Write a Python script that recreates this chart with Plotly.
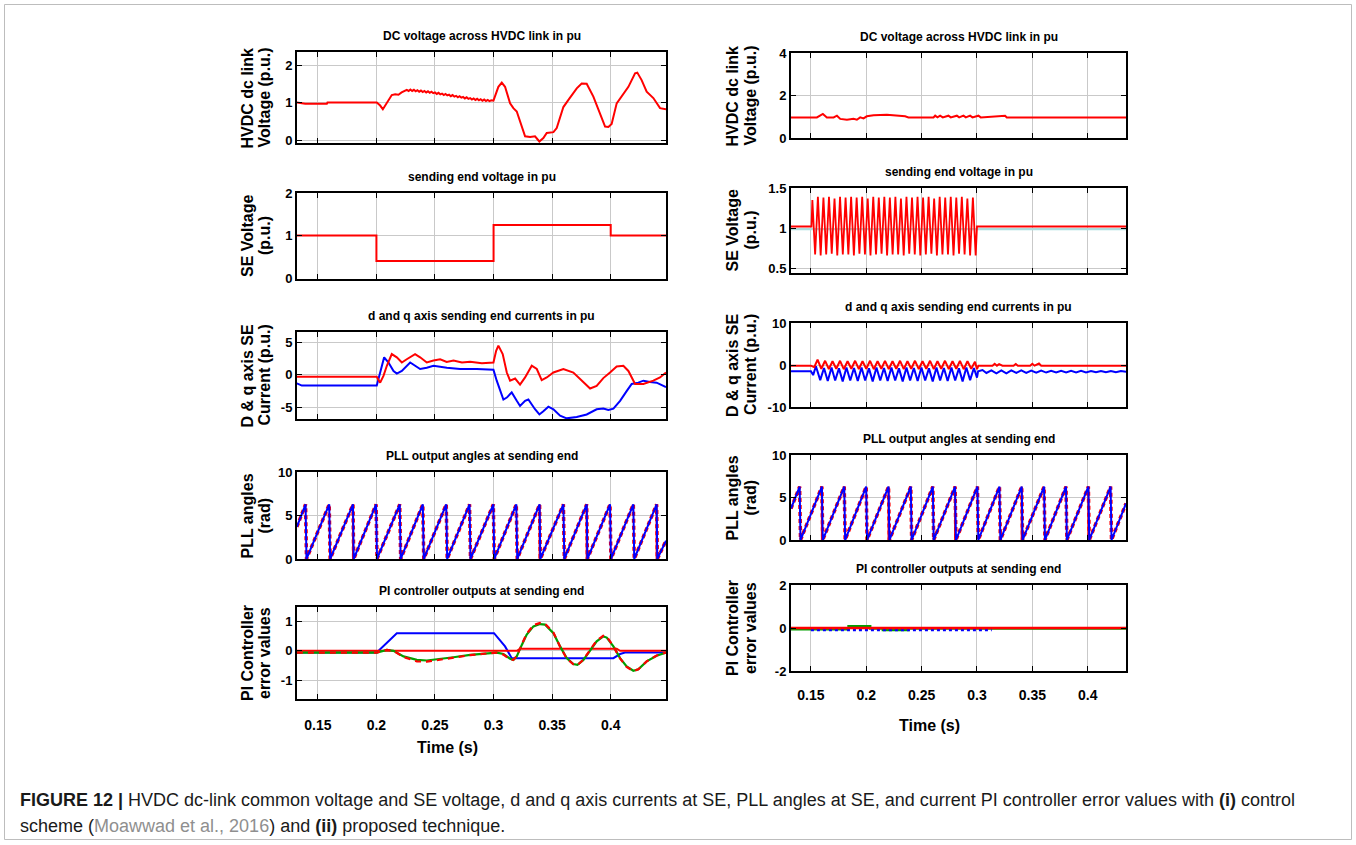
import plotly.graph_objects as go

W, H = 1356, 845

# ------------------------------------------------------------------ data
X_TICKS = [0.15, 0.20, 0.25, 0.30, 0.35, 0.40]
X_TICK_TEXT = ["0.15", "0.2", "0.25", "0.3", "0.35", "0.4"]

TITLES = ["DC voltage across HVDC link in pu", "sending end voltage in pu",
          "d and q axis sending end currents in pu", "PLL output angles at sending end",
          "PI controller outputs at sending end"]
YLABELS = [("HVDC dc link", "Voltage (p.u.)"), ("SE Voltage", "(p.u.)"),
           ("D & q axis SE", "Current (p.u.)"), ("PLL angles", "(rad)"),
           ("PI Controller", "error values")]

LEFT_YTICKS = [[0, 1, 2], [0, 1, 2], [-5, 0, 5], [0, 5, 10], [-1, 0, 1]]
RIGHT_YTICKS = [[0, 2, 4], [0.5, 1, 1.5], [-10, 0, 10], [0, 5, 10], [-2, 0, 2]]
LEFT_YRANGE = [[-0.08, 2.35], [-0.02, 2.0], [-6.8, 6.6], [0, 10], [-1.64, 1.49]]
RIGHT_YRANGE = [[0, 4], [0.44, 1.5], [-10, 10], [0, 10], [-2, 2]]
X_RANGE = [[0.1322, 0.4472], [0.1320, 0.4346]]

# ---- (i) left column
L_DC_T = [0.1321, 0.1392, 0.1577, 0.1582, 0.2003, 0.2032, 0.2055, 0.2089, 0.2131, 0.2160,
          0.2188, 0.2215, 0.2240,
          0.2259, 0.2275, 0.2290, 0.2305, 0.2320, 0.2335, 0.2350, 0.2365, 0.2380, 0.2395,
          0.2410, 0.2425, 0.2440, 0.2455, 0.2470, 0.2485, 0.2500, 0.2515, 0.2530, 0.2545,
          0.2560, 0.2575, 0.2590, 0.2605, 0.2620, 0.2635, 0.2650, 0.2665, 0.2680, 0.2695,
          0.2710, 0.2725, 0.2740, 0.2755, 0.2770, 0.2785, 0.2800, 0.2815, 0.2830, 0.2845,
          0.2860, 0.2875, 0.2890, 0.2905, 0.2920, 0.2935, 0.2950, 0.2965, 0.2980,
          0.2999, 0.3041, 0.3070, 0.3098, 0.3141, 0.3169, 0.3198, 0.3241, 0.3269, 0.3312,
          0.3354, 0.3391, 0.3425, 0.3454, 0.3511, 0.3539, 0.3596, 0.3639, 0.3710, 0.3752,
          0.3795, 0.3852, 0.3909, 0.3952, 0.3980, 0.4008, 0.4051, 0.4108, 0.4151, 0.4208,
          0.4227, 0.4264, 0.4307, 0.4364, 0.4421, 0.4472]
L_DC_V = [1.00, 0.97, 0.97, 1.00, 1.00, 0.92, 0.82, 0.98, 1.20, 1.22,
          1.21, 1.27, 1.30,
          1.34, 1.31, 1.35, 1.31, 1.34, 1.30, 1.33, 1.29, 1.32, 1.28,
          1.31, 1.27, 1.30, 1.26, 1.29, 1.25, 1.27, 1.23, 1.26, 1.22,
          1.24, 1.20, 1.23, 1.19, 1.21, 1.17, 1.20, 1.16, 1.18, 1.14,
          1.17, 1.13, 1.15, 1.11, 1.14, 1.10, 1.12, 1.08, 1.11, 1.07,
          1.10, 1.06, 1.09, 1.05, 1.08, 1.04, 1.07, 1.04, 1.06,
          1.05, 1.42, 1.53, 1.42, 0.98, 0.85, 0.76, 0.36, 0.10, 0.08,
          0.10, -0.04, 0.05, 0.19, 0.21, 0.32, 0.88, 1.07, 1.38, 1.51,
          1.50, 1.16, 0.72, 0.36, 0.35, 0.43, 0.98, 1.25, 1.42, 1.78,
          1.80, 1.60, 1.29, 1.12, 0.85, 0.82]

L_SE_T = [0.1321, 0.2000, 0.3000, 0.4000, 0.4472]
L_SE_V = [1.00, 0.40, 1.25, 1.00, 1.00]

L_ID_T = [0.1321, 0.2003, 0.2032, 0.2060, 0.2089, 0.2131, 0.2174, 0.2217, 0.2259, 0.2330,
          0.2373, 0.2430, 0.2487, 0.2544, 0.2600, 0.2658, 0.2730, 0.2800, 0.2900, 0.2999,
          0.3022, 0.3041, 0.3078,
          0.3113, 0.3141, 0.3184, 0.3226, 0.3269, 0.3326, 0.3369, 0.3411, 0.3454, 0.3511,
          0.3596, 0.3681, 0.3767, 0.3824, 0.3880, 0.3937, 0.3994, 0.4051, 0.4108, 0.4151,
          0.4208, 0.4279, 0.4364, 0.4421, 0.4472]
L_ID_V = [-0.3, -0.3, -1.2, -0.15, 1.4, 3.2, 2.7, 1.9, 2.4, 3.2,
          2.7, 1.9, 2.2, 2.4, 2.0, 2.2, 1.9, 2.0, 1.8, 1.9,
          3.7, 4.5, 3.2,
          0.36, -0.9, -0.57, -1.5, -0.4, 1.4, 0.9, -0.8, -0.4, 0.36,
          0.9, 0.36, -1.2, -2.1, -1.7, -0.5, 0.36, 1.3, 1.4, 0.6,
          -1.4, -1.4, -0.9, -0.4, 0.36]
L_IQ_T = [0.1321, 0.1363, 0.2003, 0.2032, 0.2066, 0.2103, 0.2146, 0.2174, 0.2217, 0.2288,
          0.2330, 0.2373, 0.2430, 0.2487, 0.2601, 0.2714, 0.2857, 0.2999, 0.3027, 0.3056,
          0.3084, 0.3113, 0.3155, 0.3198, 0.3226, 0.3269, 0.3297, 0.3354, 0.3391, 0.3425,
          0.3468, 0.3511, 0.3568, 0.3624, 0.3710, 0.3795, 0.3880, 0.3937, 0.3980, 0.4023,
          0.4080, 0.4136, 0.4179, 0.4236, 0.4279, 0.4335, 0.4392, 0.4472]
L_IQ_V = [-1.3, -1.65, -1.65, 0.36, 2.7, 1.9, 0.6, 0.2, 0.6, 1.9,
          1.4, 0.9, 1.1, 1.4, 1.1, 0.9, 0.9, 0.8, -0.9, -2.5,
          -3.8, -3.5, -2.7, -4.0, -4.8, -4.0, -3.8, -5.3, -6.1, -5.6,
          -4.9, -5.3, -6.3, -6.7, -6.5, -6.1, -5.3, -5.2, -5.4, -5.2,
          -4.0, -2.5, -1.4, -1.2, -0.9, -1.1, -1.2, -1.9]

PLL_MAX = 6.28
PLL_MIN = 0.0
L_PLL_START = (0.1321, 3.7)
L_PLL_END = (0.4472, 2.1)
L_PLL_PEAK_T = [0.1395, 0.1597, 0.1800, 0.1997, 0.2199, 0.2396, 0.2596, 0.2795,
                0.2998, 0.3194, 0.3393, 0.3596, 0.3795, 0.3994, 0.4193, 0.4392]
L_PLL_DROP_T = [0.1403, 0.1605, 0.1806, 0.2005, 0.2207, 0.2404, 0.2604, 0.2803,
                0.3006, 0.3202, 0.3399, 0.3604, 0.3801, 0.4002, 0.4201, 0.4398]
L_PLL_RED_DROP_T = [0.1800, 0.3393, 0.3795, 0.4392]

L_PI_BLUE_T = [0.1321, 0.2003, 0.2174, 0.3004, 0.3098, 0.3155, 0.4023, 0.4080, 0.4122, 0.4472]
L_PI_BLUE_V = [-0.06, -0.06, 0.60, 0.60, 0.15, -0.25, -0.25, -0.11, -0.06, -0.06]
L_PI_RED_T = [0.1321, 0.3198, 0.3226, 0.4051, 0.4080, 0.4472]
L_PI_RED_V = [0.0, 0.0, 0.07, 0.07, 0.0, 0.0]
L_PI_OSC_T = [0.1321, 0.2003, 0.2089, 0.2146, 0.2231, 0.2345, 0.2430, 0.2544, 0.2658, 0.2800,
              0.2942, 0.3027, 0.3084, 0.3141, 0.3169, 0.3198, 0.3241, 0.3283, 0.3340, 0.3397,
              0.3440, 0.3511, 0.3568, 0.3624, 0.3681, 0.3716, 0.3767, 0.3824, 0.3880, 0.3937,
              0.3966, 0.4023, 0.4080, 0.4136, 0.4193, 0.4236, 0.4307, 0.4392, 0.4472]
L_PI_GREEN_V = [-0.06, -0.06, 0.03, 0.00, -0.19, -0.31, -0.33, -0.28, -0.22, -0.14,
                -0.09, -0.06, -0.11, -0.27, -0.31, -0.19, 0.20, 0.55, 0.83, 0.91,
                0.89, 0.60, 0.15, -0.25, -0.45, -0.48, -0.31, 0.03, 0.32, 0.49,
                0.45, 0.15, -0.25, -0.53, -0.68, -0.63, -0.36, -0.17, -0.06]
L_PI_REDDASH_V = [-0.06, -0.06, 0.03, 0.00, -0.21, -0.36, -0.37, -0.30, -0.23, -0.15,
                  -0.09, -0.06, -0.13, -0.29, -0.31, -0.18, 0.22, 0.58, 0.87, 0.95,
                  0.92, 0.62, 0.14, -0.26, -0.46, -0.49, -0.30, 0.05, 0.35, 0.51,
                  0.48, 0.15, -0.26, -0.55, -0.69, -0.63, -0.36, -0.16, -0.06]

# ---- (ii) right column
R_DC_T = [0.1320, 0.1554, 0.1608, 0.1644, 0.1705, 0.1735, 0.1765, 0.1825, 0.1885, 0.1915,
          0.1945, 0.1975, 0.2005, 0.2066, 0.2186, 0.2306, 0.2351, 0.2381, 0.2607, 0.2622,
          0.2643, 0.2667, 0.2691, 0.2742, 0.2763, 0.2818, 0.2839, 0.2878, 0.2899, 0.2938,
          0.2959, 0.3013, 0.3034, 0.3254, 0.3269, 0.4346]
R_DC_V = [0.97, 0.97, 1.13, 0.97, 0.97, 1.05, 0.90, 0.86, 0.90, 0.86,
          0.97, 0.92, 1.02, 1.07, 1.10, 1.05, 1.02, 0.97, 0.97, 1.05,
          0.97, 1.05, 0.97, 1.05, 0.97, 1.05, 0.97, 1.05, 0.97, 1.05,
          0.97, 1.05, 0.97, 1.05, 0.97, 0.97]

R_SE_PRE = ([0.1320, 0.1505], [1.02, 1.02])
R_SE_POST = ([0.3000, 0.4346], [1.02, 1.02])
R_SE_PEAK_T = [0.1513, 0.1563, 0.1613, 0.1663, 0.1713, 0.1763, 0.1813, 0.1863, 0.1913, 0.1963,
               0.2013, 0.2063, 0.2113, 0.2163, 0.2213, 0.2263, 0.2313, 0.2363, 0.2413, 0.2463,
               0.2513, 0.2563, 0.2613, 0.2663, 0.2713, 0.2763, 0.2813, 0.2863, 0.2913, 0.2963]
R_SE_PEAK_V = [1.35, 1.39, 1.38, 1.39, 1.37, 1.39, 1.38, 1.39, 1.38, 1.39,
               1.37, 1.39, 1.38, 1.39, 1.38, 1.39, 1.37, 1.39, 1.38, 1.39,
               1.38, 1.39, 1.37, 1.39, 1.38, 1.39, 1.38, 1.39, 1.37, 1.38]
R_SE_TROUGH_T = [0.1538, 0.1588, 0.1638, 0.1688, 0.1738, 0.1788, 0.1838, 0.1888, 0.1938, 0.1988,
                 0.2038, 0.2088, 0.2138, 0.2188, 0.2238, 0.2288, 0.2338, 0.2388, 0.2438, 0.2488,
                 0.2538, 0.2588, 0.2638, 0.2688, 0.2738, 0.2788, 0.2838, 0.2888, 0.2938, 0.2988]
R_SE_TROUGH_V = [0.67, 0.66, 0.67, 0.68, 0.66, 0.67, 0.67, 0.66, 0.68, 0.67,
                 0.66, 0.67, 0.68, 0.66, 0.67, 0.67, 0.66, 0.68, 0.67, 0.66,
                 0.67, 0.68, 0.66, 0.67, 0.67, 0.66, 0.68, 0.67, 0.66, 0.66]
R_SE_REF_T = [0.1320, 0.4346]
R_SE_REF_V = [0.985, 0.985]

R_ID_PRE = ([0.1320, 0.1500, 0.1530], [-0.16, -0.16, -0.5])
R_ID_PEAK_T = [0.1560, 0.1628, 0.1695, 0.1763, 0.1831, 0.1899, 0.1966, 0.2034, 0.2102, 0.2169,
               0.2237, 0.2305, 0.2372, 0.2440, 0.2508, 0.2576, 0.2643, 0.2711, 0.2779, 0.2846,
               0.2914, 0.2982]
R_ID_PEAK_V = [1.3, 1.0, 0.9, 1.0, 0.9, 1.0, 0.9, 1.0, 0.9, 1.0,
               0.9, 1.0, 0.9, 1.0, 0.9, 1.0, 0.9, 1.0, 0.9, 1.0,
               0.9, 0.8]
R_ID_TROUGH_T = [0.1594, 0.1662, 0.1729, 0.1797, 0.1865, 0.1933, 0.2000, 0.2068, 0.2136, 0.2203,
                 0.2271, 0.2339, 0.2406, 0.2474, 0.2542, 0.2610, 0.2677, 0.2745, 0.2813, 0.2880,
                 0.2948, 0.3000]
R_ID_TROUGH_V = [-0.9, -0.95, -0.9, -1.0, -0.9, -0.95, -0.9, -1.0, -0.9, -0.95,
                 -0.9, -1.0, -0.9, -0.95, -0.9, -1.0, -0.9, -0.95, -0.9, -1.0,
                 -0.9, -1.0]
R_ID_POST_T = [0.3013, 0.3140, 0.3160, 0.3180, 0.3200, 0.3230, 0.3330, 0.3350, 0.3370,
               0.3480, 0.3500, 0.3520, 0.3560, 0.3580, 0.4346]
R_ID_POST_V = [-0.16, -0.16, 0.3, -0.16, 0.2, -0.16, -0.16, 0.25, -0.16,
               -0.16, 0.3, -0.16, 0.35, -0.16, -0.16]

R_IQ_PRE = ([0.1320, 0.1500, 0.1520, 0.1545], [-1.5, -1.5, -2.4, -0.3])
R_IQ_TROUGH_T = [0.1584, 0.1652, 0.1719, 0.1787, 0.1855, 0.1923, 0.1990, 0.2058, 0.2126, 0.2193,
                 0.2261, 0.2329, 0.2396, 0.2464, 0.2532, 0.2600, 0.2667, 0.2735, 0.2803, 0.2870,
                 0.2938]
R_IQ_TROUGH_V = [-3.6, -3.8, -3.7, -3.9, -3.7, -3.8, -3.7, -3.9, -3.7, -3.8,
                 -3.7, -3.9, -3.7, -3.8, -3.7, -3.9, -3.7, -3.8, -3.7, -3.9, -3.6]
R_IQ_PEAK_T = [0.1618, 0.1686, 0.1753, 0.1821, 0.1889, 0.1957, 0.2024, 0.2092, 0.2160, 0.2227,
               0.2295, 0.2363, 0.2430, 0.2498, 0.2566, 0.2634, 0.2701, 0.2769, 0.2837, 0.2904,
               0.2972]
R_IQ_PEAK_V = [-0.7, -0.6, -0.8, -0.6, -0.7, -0.6, -0.8, -0.6, -0.7, -0.6,
               -0.8, -0.6, -0.7, -0.6, -0.8, -0.6, -0.7, -0.6, -0.8, -0.6, -0.7]
R_IQ_POST_T = [0.3000, 0.3010, 0.3050, 0.3085, 0.3130, 0.3175, 0.3220, 0.3265, 0.3310, 0.3355,
               0.3400, 0.3445, 0.3490, 0.3535, 0.3580, 0.3625, 0.3670, 0.3715, 0.3760, 0.3805,
               0.3850, 0.3895, 0.3940, 0.3985, 0.4030, 0.4075, 0.4120, 0.4165, 0.4210, 0.4255,
               0.4300, 0.4346]
R_IQ_POST_V = [-3.0, -1.5, -1.2, -1.9, -1.3, -2.0, -1.3, -2.0, -1.3, -1.9,
               -1.3, -1.9, -1.35, -1.85, -1.35, -1.8, -1.4, -1.8, -1.4, -1.75,
               -1.4, -1.75, -1.4, -1.75, -1.45, -1.7, -1.45, -1.7, -1.45, -1.7,
               -1.45, -1.6]

R_PLL_START = (0.1320, 3.7)
R_PLL_END = (0.4346, 4.3)
R_PLL_PEAK_T = [0.1398, 0.1599, 0.1801, 0.1999, 0.2201, 0.2402, 0.2601, 0.2802,
                0.3004, 0.3203, 0.3404, 0.3606, 0.3804, 0.4006, 0.4207]
R_PLL_DROP_T = [0.1406, 0.1607, 0.1809, 0.2007, 0.2209, 0.2410, 0.2609, 0.2810,
                0.3012, 0.3211, 0.3412, 0.3614, 0.3812, 0.4014, 0.4215]
R_PLL_RED_DROP_T = [0.1599, 0.2201, 0.2802, 0.3404, 0.4006]

R_PI_RED_T = [0.1320, 0.4346]
R_PI_RED_V = [0.0, 0.0]
R_PI_BLUE_T = [0.1500, 0.3133]
R_PI_BLUE_V = [-0.09, -0.09]
R_PI_GREEN_T = [0.1320, 0.1840, 0.2035, 0.2150, 0.2380, 0.4346]
R_PI_GREEN_V = [-0.06, 0.08, -0.02, -0.09, -0.02, -0.02]

CAPTION_1 = ("<b>FIGURE 12 |</b> HVDC dc-link common voltage and SE voltage, d and q axis currents at SE, "
             "PLL angles at SE, and current PI controller error values with <b>(i)</b> control")
CAPTION_2 = ("scheme (<span style='color:#8f8f8f'>Moawwad et al., 2016</span>) and "
             "<b>(ii)</b> proposed technique.")

# ------------------------------------------------------------------ geometry (pixels)
COL_X = [(297, 666), (791, 1126)]
ROW_Y = [[(52, 143), (193, 279), (332, 419), (472, 559), (607, 699)],
         [(53, 138), (188, 273), (323, 407), (455, 540), (585, 671)]]
YLABEL_X = [(247, 264), (732, 750)]
TICK_STANDOFF = [12, 10]

FONT = "Liberation Sans, Arial, sans-serif"
RED, BLUE, GREEN = "#ff0000", "#0000ff", "#00a000"

fig = go.Figure()


def ax(n):
    return ("x" if n == 1 else f"x{n}"), ("y" if n == 1 else f"y{n}")


def add(n, t, v, color, width=2.0, dash="solid", shape="linear"):
    xa, ya = ax(n)
    fig.add_trace(go.Scatter(x=t, y=v, mode="lines", xaxis=xa, yaxis=ya, hoverinfo="skip",
                             line=dict(color=color, width=width, dash=dash, shape=shape)))


def interleave(a_t, a_v, b_t, b_v):
    t, v = [], []
    for i in range(max(len(a_t), len(b_t))):
        if i < len(a_t):
            t.append(a_t[i]); v.append(a_v[i])
        if i < len(b_t):
            t.append(b_t[i]); v.append(b_v[i])
    return t, v


def saw(start, peaks, drops, end):
    t, v = [start[0]], [start[1]]
    for p, d in zip(peaks, drops):
        t += [p, d]
        v += [PLL_MAX, PLL_MIN]
    t.append(end[0]); v.append(end[1])
    return t, v


def verticals(times):
    t, v = [], []
    for p in times:
        t += [p, p, None]
        v += [PLL_MAX, PLL_MIN, None]
    return t, v


# ---- left column traces
add(1, L_DC_T, L_DC_V, RED)
add(2, L_SE_T, L_SE_V, RED, shape="hv")
add(3, L_IQ_T, L_IQ_V, BLUE)
add(3, L_ID_T, L_ID_V, RED)
t, v = saw(L_PLL_START, L_PLL_PEAK_T, L_PLL_DROP_T, L_PLL_END)
add(4, t, v, RED, width=3.5, dash="4px,3px")
t, v = verticals(L_PLL_RED_DROP_T)
add(4, t, v, RED, width=2)
t, v = saw(L_PLL_START, L_PLL_PEAK_T, L_PLL_DROP_T, L_PLL_END)
add(4, t, v, BLUE, width=2)
add(5, L_PI_BLUE_T, L_PI_BLUE_V, BLUE)
add(5, L_PI_RED_T, L_PI_RED_V, RED)
add(5, L_PI_OSC_T, L_PI_GREEN_V, GREEN, width=2.2)
add(5, L_PI_OSC_T, L_PI_REDDASH_V, RED, width=2.2, dash="6px,5px")

# ---- right column traces
add(6, R_DC_T, R_DC_V, RED)
add(7, R_SE_REF_T, R_SE_REF_V, "#a9dede", width=2)
t, v = interleave(R_SE_PEAK_T, R_SE_PEAK_V, R_SE_TROUGH_T, R_SE_TROUGH_V)
add(7, R_SE_PRE[0] + t + R_SE_POST[0], R_SE_PRE[1] + v + R_SE_POST[1], RED, width=1.8)
t, v = interleave(R_IQ_TROUGH_T, R_IQ_TROUGH_V, R_IQ_PEAK_T, R_IQ_PEAK_V)
add(8, R_IQ_PRE[0] + t + R_IQ_POST_T, R_IQ_PRE[1] + v + R_IQ_POST_V, BLUE)
t, v = interleave(R_ID_PEAK_T, R_ID_PEAK_V, R_ID_TROUGH_T, R_ID_TROUGH_V)
add(8, R_ID_PRE[0] + t + R_ID_POST_T, R_ID_PRE[1] + v + R_ID_POST_V, RED)
t, v = saw(R_PLL_START, R_PLL_PEAK_T, R_PLL_DROP_T, R_PLL_END)
add(9, t, v, RED, width=3.5, dash="4px,3px")
t, v = verticals(R_PLL_RED_DROP_T)
add(9, t, v, RED, width=2)
t, v = saw(R_PLL_START, R_PLL_PEAK_T, R_PLL_DROP_T, R_PLL_END)
add(9, t, v, BLUE, width=2)
add(10, R_PI_GREEN_T, R_PI_GREEN_V, GREEN, width=2.5, shape="hv")
add(10, R_PI_BLUE_T, R_PI_BLUE_V, BLUE, width=2.5, dash="dot")
add(10, R_PI_RED_T, R_PI_RED_V, RED, width=2.5)

# ------------------------------------------------------------------ layout
layout = dict(width=W, height=H, autosize=False,
              margin=dict(l=0, r=0, t=0, b=0, pad=0, autoexpand=False),
              paper_bgcolor="white", plot_bgcolor="white", showlegend=False)
annotations = []
for idx in range(10):
    col, row = divmod(idx, 5)
    n = idx + 1
    x0, x1 = COL_X[col]
    ytop, ybot = ROW_Y[col][row]
    yticks = (LEFT_YTICKS if col == 0 else RIGHT_YTICKS)[row]
    yrange = (LEFT_YRANGE if col == 0 else RIGHT_YRANGE)[row]
    xa, ya = ax(n)
    xkey = "xaxis" if n == 1 else f"xaxis{n}"
    ykey = "yaxis" if n == 1 else f"yaxis{n}"
    common = dict(ticks="inside", ticklen=5, tickcolor="black", tickwidth=1,
                  showline=True, linecolor="black", linewidth=2, mirror="allticks",
                  showgrid=True, gridcolor="#c9c9c9", gridwidth=1, zeroline=False,
                  automargin=False)
    layout[xkey] = dict(domain=[x0 / W, x1 / W], anchor=ya, range=X_RANGE[col],
                        tickvals=X_TICKS, ticktext=X_TICK_TEXT, showticklabels=(row == 4),
                        tickfont=dict(family=FONT, size=14, color="black", weight="bold"),
                        ticklabelstandoff=TICK_STANDOFF[col], **common)
    layout[ykey] = dict(domain=[1 - ybot / H, 1 - ytop / H], anchor=xa, range=yrange,
                        tickvals=yticks, ticktext=[f"{v:g}" for v in yticks],
                        tickfont=dict(family=FONT, size=13, color="black", weight="bold"),
                        **common)
    annotations.append(dict(text=f"<b>{TITLES[row]}</b>", x=(x0 + x1) / 2 / W, y=1 - (ytop - 16) / H,
                            xref="paper", yref="paper", xanchor="center", yanchor="middle",
                            showarrow=False, font=dict(family=FONT, size=12, color="black")))
    for k in range(2):
        annotations.append(dict(text=f"<b>{YLABELS[row][k]}</b>", x=YLABEL_X[col][k] / W,
                                y=1 - (ytop + ybot) / 2 / H, xref="paper", yref="paper",
                                xanchor="center", yanchor="middle", textangle=-90,
                                showarrow=False, font=dict(family=FONT, size=16, color="black")))

for xc, yc in [(447, 747), (930, 725)]:
    annotations.append(dict(text="<b>Time (s)</b>", x=xc / W, y=1 - yc / H, xref="paper", yref="paper",
                            xanchor="center", yanchor="middle", showarrow=False,
                            font=dict(family=FONT, size=16, color="black")))

for txt, yc in [(CAPTION_1, 800), (CAPTION_2, 826)]:
    annotations.append(dict(text=txt, x=18 / W, y=1 - yc / H, xref="paper", yref="paper",
                            xanchor="left", yanchor="middle", showarrow=False, align="left",
                            font=dict(family=FONT, size=18, color="#1a1a1a")))

layout["annotations"] = annotations
layout["shapes"] = [dict(type="rect", xref="paper", yref="paper", x0=4.5 / W, x1=1351.5 / W,
                         y0=1 - 839.5 / H, y1=1 - 4.5 / H, line=dict(color="#bdbdbd", width=1),
                         fillcolor="rgba(0,0,0,0)", layer="below")]
fig.update_layout(**layout)
fig.write_html("out.html", config={"displayModeBar": False},
               post_script="document.body.style.margin='0';document.body.style.overflow='hidden';")
